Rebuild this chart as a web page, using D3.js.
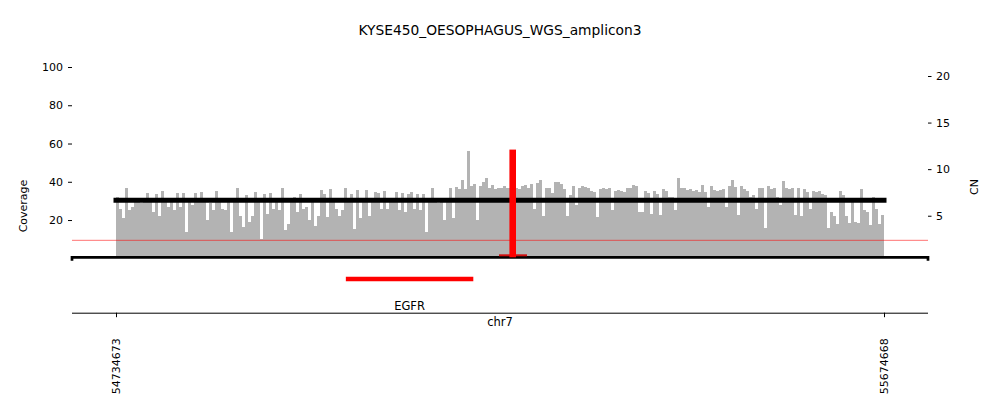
<!DOCTYPE html>
<html><head><meta charset="utf-8">
<script src="https://cdn.jsdelivr.net/npm/d3@7"></script>
<style>
body{margin:0;background:#fff}
svg text{font-family:"DejaVu Sans",sans-serif;fill:#000}
</style></head>
<body><svg id="chart" width="1000" height="416"></svg>
<script>
const title = "KYSE450_OESOPHAGUS_WGS_amplicon3";
const chrom = "chr7";
const regionStart = 54734673, regionEnd = 55674668;
const covTicks = [20, 40, 60, 80, 100];
const cnTicks = [5, 10, 15, 20];
const posTicks = [54734673, 55674668];
// binned coverage across the region, left to right
const coverage = [
 32,26,21,37,25,27,31,30,29,31,34,30,24,33.5,22,35,
 31,27,30,25,34,27,34,14,30,28,34,30,34.5,30,20,29,
 25,35,30,26,25,30,14,31,36.5,22,16.5,33,19,22,34.5,30,
 10,33.5,23,34,26,30,25,36.5,15,18,31,32,24,33.5,26,27,
 20,31,17,22,35.5,33.5,21.5,36,30,26,22,25,36.5,31,33.5,15.5,
 35.5,21,30,35.5,22,30,34.5,34,26,35,26,30,31,34.5,25,34,
 24,33.5,34.5,26,33.5,25,33.5,13.5,30,36.5,30,29,31,20,31,37,
 21,37.5,36,41,36,56,38,39,20,38,40,42,37,38.5,36,37,
 37,38,36.5,37,36,37,36,38,38.5,37,39,26,39.5,41,22,37,
 36.5,34,40,40,39,36,22,33,38,28,37,38,37.5,37,35,34.5,
 21.5,36,36.5,36,37,25,35,35.5,35,34.5,37,36.5,38.5,38,24,24,
 35,34,23,35,33.5,22.5,36,35,32,32,25,42,37,37,35.5,36,
 35,35.5,34.5,38.5,34.5,27,38,35.5,35,35.5,36,27,38,41,37.5,22.5,
 38,36,35,32,33,26,37,37,16,38,36,36.5,32,28,40.5,37,
 36,36.5,22.5,36.5,22,36,34.5,26,35,34.5,35,33.5,33,16,24,22,
 18,35,33,22,18.5,31,19,18.5,36,25,24,17.5,32,26,18,22.5
];
const covThreshold = 9.4;
const cnSegments = [{start: 54734673, end: 55674668, cn: 6.66}];
const ampliconSpike = {pos: 55220225, cn: 12.1};
const ampliconInterval = {start: 55203460, end: 55237697};
const genes = [{name: "EGFR", start: 55016000, end: 55172000}];

const svg = d3.select("#chart");
const L = 72, R = 928;
const x = d3.scaleLinear().domain([regionStart, regionEnd]).range([116, 884]);
const yCov = d3.scaleLinear().domain([0, 100]).range([258.3, 67]);
const yCN = d3.scaleLinear().domain([0, 20]).range([262.3, 76]);

// title
svg.append("text").attr("x", 500).attr("y", 35).attr("text-anchor", "middle")
  .style("font-size", "13.8px").text(title);

// coverage bars
const bw = (regionEnd - regionStart) / coverage.length;
svg.append("g").selectAll("rect").data(coverage).join("rect")
  .attr("x", (d, i) => x(regionStart + i * bw))
  .attr("width", (d, i) => x(regionStart + (i + 1) * bw) - x(regionStart + i * bw))
  .attr("y", d => yCov(d))
  .attr("height", d => yCov(0) - yCov(d))
  .attr("fill", "#b3b3b3")
  .attr("shape-rendering", "crispEdges");

// threshold line
svg.append("line").attr("x1", L).attr("x2", R)
  .attr("y1", yCov(covThreshold)).attr("y2", yCov(covThreshold))
  .attr("stroke", "red").attr("stroke-opacity", 0.55).attr("stroke-width", 1);

// CN segments
svg.append("g").selectAll("line").data(cnSegments).join("line")
  .attr("x1", d => x(d.start)).attr("x2", d => x(d.end))
  .attr("y1", d => yCN(d.cn)).attr("y2", d => yCN(d.cn))
  .attr("stroke", "#000").attr("stroke-width", 5).attr("stroke-linecap", "square");

// baseline bracket
svg.append("path").attr("d", `M${L},260.7V257.3H${R}V260.7`)
  .attr("fill", "none").attr("stroke", "#000").attr("stroke-width", 2.7);

// amplicon interval + spike
svg.append("line").attr("x1", x(ampliconInterval.start)).attr("x2", x(ampliconInterval.end))
  .attr("y1", 255.3).attr("y2", 255.3).attr("stroke", "#d01010").attr("stroke-width", 2);
svg.append("line").attr("x1", x(ampliconSpike.pos)).attr("x2", x(ampliconSpike.pos))
  .attr("y1", yCN(ampliconSpike.cn)).attr("y2", 257.3)
  .attr("stroke", "red").attr("stroke-width", 6.6);

// left axis
const gl = svg.append("g").attr("transform", `translate(${L},0)`)
  .call(d3.axisLeft(yCov).tickValues(covTicks).tickSize(4).tickPadding(5));
gl.select(".domain").remove();
gl.selectAll("text").style("font-size", "11px").style("font-family", '"DejaVu Sans",sans-serif');
// right axis
const gr = svg.append("g").attr("transform", `translate(${R},0)`)
  .call(d3.axisRight(yCN).tickValues(cnTicks).tickSize(3.5).tickPadding(4.5));
gr.select(".domain").remove();
gr.selectAll("text").style("font-size", "11px").style("font-family", '"DejaVu Sans",sans-serif');

svg.append("text").attr("transform", "translate(27,206) rotate(-90)")
  .attr("text-anchor", "middle").style("font-size", "11px").text("Coverage");
svg.append("text").attr("transform", "translate(978,187) rotate(-90)")
  .attr("text-anchor", "middle").style("font-size", "11px").text("CN");

// gene track
const gg = svg.append("g").selectAll("g").data(genes).join("g");
gg.append("line").attr("x1", d => x(d.start)).attr("x2", d => x(d.end))
  .attr("y1", 279).attr("y2", 279).attr("stroke", "red").attr("stroke-width", 4.5);
gg.append("text").attr("x", d => x((d.start + d.end) / 2)).attr("y", 310)
  .attr("text-anchor", "middle").style("font-size", "11.5px").text(d => d.name);

// bottom axis
const gb = svg.append("g").attr("transform", "translate(0,312.7)")
  .call(d3.axisBottom(x).tickValues(posTicks).tickFormat(d3.format("d")).tickSize(4.5).tickPadding(0));
gb.select(".domain").attr("d", `M${L},0.5H${R}`);
gb.selectAll(".tick text")
  .style("font-size", "11px").style("font-family", '"DejaVu Sans",sans-serif')
  .attr("text-anchor", "end").attr("dy", null)
  .attr("transform", "translate(0,25.5) rotate(-90)")
  .attr("x", 0).attr("y", 0).attr("dominant-baseline", "central");
svg.append("text").attr("x", 500).attr("y", 326).attr("text-anchor", "middle")
  .style("font-size", "11.5px").text(chrom);
</script></body></html>
